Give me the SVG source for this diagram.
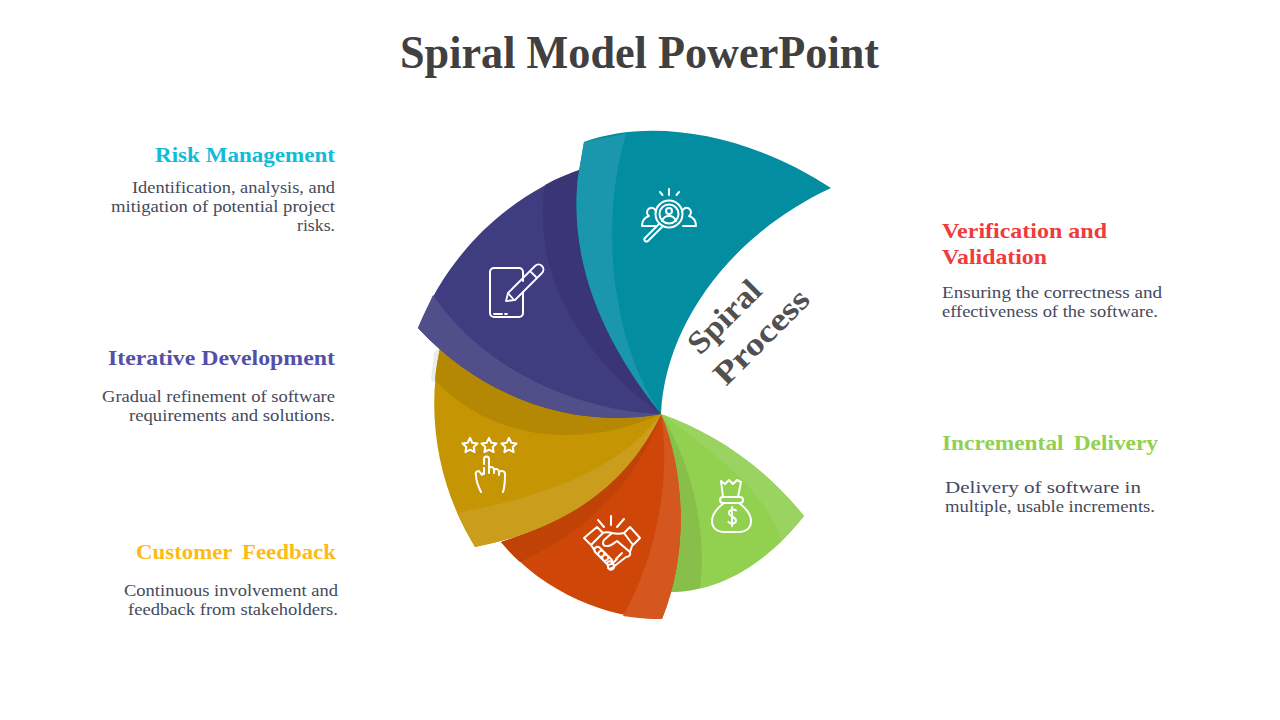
<svg xmlns="http://www.w3.org/2000/svg" width="1280" height="720" viewBox="0 0 1280 720">
<style>
text{font-family:"Liberation Serif","Times New Roman",serif}
.h{font-size:22px;font-weight:700}
.b{font-size:17px;fill:#444a5c}
.i{fill:none;stroke:#fff;stroke-width:2;stroke-linecap:round;stroke-linejoin:round}
</style>
<rect width="1280" height="720" fill="#fff"/>
<text id="title" x="400" y="68" font-size="46" font-weight="700" fill="#404040" textLength="479" lengthAdjust="spacingAndGlyphs">Spiral Model PowerPoint</text>

<g id="green-blade">
<path fill="#92D050" d="M661,414C712,432 762,464 804,516C768,562 722,592 670,592C684,540 684,478 661,414Z"/>
<path fill="#9BD360" d="M661,414C712,432 762,464 804,516C797,525 789,533 781,541.500C772,500 720,455 661,414Z"/>
<path fill="#88BF4A" d="M661,414C690,460 708,530 700,588C690,591 680,592 670,592C684,540 684,478 661,414Z"/>
<g class="i"><path d="M721,481l4,3 4-4 4,4 4-4 4,2-3,15h-15zM723,497h17a2.500,2.500 0 0 1 0,6h-17a2.500,2.500 0 0 1 0-6zM724,503c-8,6-12,12-12,18 0,7 5,11 12,11h15c7,0 12-4 12-11 0-6-4-12-12-18"/><path d="M736,510.500c-2-2-7-1-7,2.500 0,4 7,3.500 7,7.500 0,3.500-5,4-7.500,1.500M732,507v19"/></g>
</g>

<g id="orange-blade">
<path fill="#CF4708" d="M661,414C684,470 690,550 662,619C620,619 550,600 501,542C570,520 630,480 661,414Z"/>
<path fill="#D4571F" d="M661,414C684,470 690,550 662,619C648,619 635,618 623,616C655,560 672,480 661,414Z"/>
<path fill="#C04206" d="M661,414C640,475 595,528 520,562C513,556 507,549 501,542C570,520 630,480 661,414Z"/>
<g class="i"><path d="M598,520l6,7M611,516v9M624,519l-7,8M584,538l13-11 6,6-12,12zM624,533l6-6 10,11-7,7zM602,533c4-1 7-1 10,0 4,1 8,1 12,0M612,533l-8,7c-2,3-1,6 2,6 4,1 8-3 11-5l13,11c1,3-1,5-4,5l-14,11c-2,1-3,1-4,0M591,545l4,6M632,546l-2,6M595,552a3,3 0 0 1 5-4l3,3a3,3 0 0 1-4,5zM599,556a3,3 0 0 1 5-4l3,3a3,3 0 0 1-4,5zM603,560a3,3 0 0 1 5-4l3,3a3,3 0 0 1-4,5zM607,564a3,3 0 0 1 5-2l1,2a3,3 0 0 1-4,5zM622,553l-6,6M617,559l-5,5"/></g>
</g>

<g id="gold-blade">
<path fill="#ececec" d="M440,348L434,352 431,380 435,383Z"/>
<path fill="#C69503" d="M661,414C625,490 560,530 475,547C440,490 425,420 440,348C500,395 580,420 661,414Z"/>
<path fill="#CA9E1C" d="M661,414C625,490 560,530 475,547L457,513C540,498 620,470 661,414Z"/>
<path fill="#B58803" d="M661,414C590,447 495,445 435,380C436,368 438,358 440,348C500,395 580,420 661,414Z"/>
<g class="i"><path d="M470,438l2.300,4.700 5.200,.7-3.800,3.600 .9,5.100-4.600-2.400-4.600,2.400 .9-5.100-3.800-3.600 5.200-.7zM489,438l2.300,4.700 5.200,.7-3.800,3.600 .9,5.100-4.600-2.400-4.600,2.400 .9-5.100-3.800-3.600 5.200-.7zM509,438l2.300,4.700 5.200,.7-3.800,3.600 .9,5.100-4.600-2.400-4.600,2.400 .9-5.100-3.800-3.600 5.200-.7z"/><path d="M484,464v-5a2.500,2.500 0 0 1 5,0v14M489,468c2-2 5-1 5,2v3M494,470c2-2 5-1 5,2v3M499,472c2-2 6-1 6,2 0,6 0,12-2,18M484,468v6M484,472l-2,3-3-4c-3,0-4,2-3,4 0,6 2,11 5,17"/></g>
</g>

<g id="indigo-blade">
<path fill="#3F3D80" d="M661,414C570,430 480,395 418,328C450,250 510,195 582,169L620,300Z"/>
<path fill="#504F89" d="M661,414C570,430 480,395 418,328L433,295C480,365 570,410 661,414Z"/>
<path fill="#3A3675" d="M661,414C590,365 530,280 545,185C557,178 570,173 582,169L620,300Z"/>
<g class="i"><path d="M523,281v-9a4,4 0 0 0-4-4h-25a4,4 0 0 0-4,4v41a4,4 0 0 0 4,4h25a4,4 0 0 0 4-4v-21"/><path d="M494,314h8M505,314h2M506,301l2-8 27-27c2-2 5-2 7,0 2,2 2,5 0,7l-27,27zM508,293l6,7M530,271l7,7M512,289l19-19" stroke-width="1.800"/></g>
</g>

<g id="teal-blade">
<path fill="#028DA1" d="M661,414C665,325 730,235 831,188C745,132 650,118 584,142L578,177C568,270 610,350 661,414Z"/>
<path fill="#1B97AD" d="M661,414C610,340 600,220 626,134C612,136 598,139 584,142L578,177C568,270 610,350 661,414Z"/>
<g class="i"><circle cx="669" cy="214" r="13.500"/><circle cx="669" cy="214" r="9.500"/><circle cx="669" cy="211" r="3"/><path d="M662,221c1-3 4-5 7-5s6,2 7,5M669,189v6M660,192l2.500,3M679,192l-2.500,3M659,224l-14,14a2,2 0 0 0 3,3l14-14M683,226h13c0-6-4-9-7-10a4.500,4.500 0 1 0-7-4M655,226h-13c0-6 4-9 7-10a4.500,4.500 0 1 1 7-4"/></g>
</g>

<g id="risk-management"><text class="h" x="155" y="162" fill="#12BBD6" textLength="180" lengthAdjust="spacingAndGlyphs">Risk Management</text>
<text class="b" x="132" y="193" textLength="203" lengthAdjust="spacingAndGlyphs">Identification, analysis, and</text>
<text class="b" x="111" y="212" textLength="224" lengthAdjust="spacingAndGlyphs">mitigation of potential project</text>
<text class="b" x="297" y="231" textLength="38" lengthAdjust="spacingAndGlyphs">risks.</text></g>

<g id="iterative-development"><text class="h" x="108" y="365" fill="#5350A8" textLength="227" lengthAdjust="spacingAndGlyphs">Iterative Development</text>
<text class="b" x="102" y="402" textLength="233" lengthAdjust="spacingAndGlyphs">Gradual refinement of software</text>
<text class="b" x="129" y="421" textLength="206" lengthAdjust="spacingAndGlyphs">requirements and solutions.</text></g>

<g id="customer-feedback"><text class="h" x="136" y="559" fill="#FDBB13" word-spacing="4" textLength="200" lengthAdjust="spacingAndGlyphs">Customer Feedback</text>
<text class="b" x="124" y="596" textLength="214" lengthAdjust="spacingAndGlyphs">Continuous involvement and</text>
<text class="b" x="128" y="615" textLength="210" lengthAdjust="spacingAndGlyphs">feedback from stakeholders.</text></g>

<g id="verification-validation"><text class="h" x="942" y="238" fill="#EF3B3B" textLength="165" lengthAdjust="spacingAndGlyphs">Verification and</text>
<text class="h" x="942" y="264" fill="#EF3B3B" textLength="105" lengthAdjust="spacingAndGlyphs">Validation</text>
<text class="b" x="942" y="298" textLength="220" lengthAdjust="spacingAndGlyphs">Ensuring the correctness and</text>
<text class="b" x="942" y="317" textLength="216" lengthAdjust="spacingAndGlyphs">effectiveness of the software.</text></g>

<g id="incremental-delivery"><text class="h" x="942" y="450" fill="#92D050" word-spacing="4" textLength="216" lengthAdjust="spacingAndGlyphs">Incremental Delivery</text>
<text class="b" x="945" y="493" textLength="196" lengthAdjust="spacingAndGlyphs">Delivery of software in</text>
<text class="b" x="945" y="512" textLength="210" lengthAdjust="spacingAndGlyphs">multiple, usable increments.</text></g>

<g id="spiral-process" fill="#505050" font-size="32" font-weight="700"><text transform="translate(700,356) rotate(-45)" textLength="90" lengthAdjust="spacingAndGlyphs">Spiral</text>
<text transform="translate(726,387) rotate(-45)" textLength="121" lengthAdjust="spacingAndGlyphs">Process</text></g>
</svg>
